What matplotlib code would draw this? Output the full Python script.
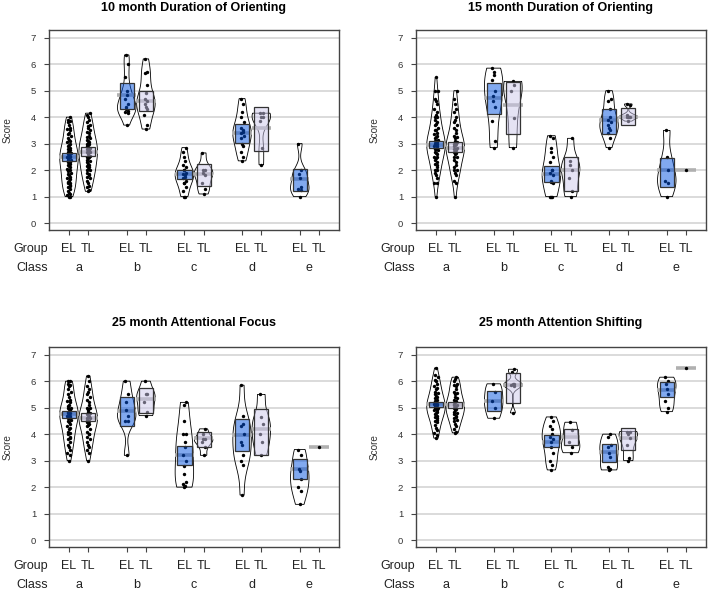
import numpy as np
import matplotlib
matplotlib.use("Agg")
import matplotlib.pyplot as plt
from matplotlib.patches import Rectangle, Polygon
from matplotlib.transforms import blended_transform_factory

plt.rcParams['font.family'] = ['Liberation Sans', 'DejaVu Sans']

titles = ["10 month Duration of Orienting", "15 month Duration of Orienting",
          "25 month Attentional Focus", "25 month Attention Shifting"]
classes = ["a", "b", "c", "d", "e"]
groups = ["EL", "TL"]
y_ticks = [0, 1, 2, 3, 4, 5, 6, 7]

# ---------------- 10 month Duration of Orienting ----------------
d10_a_EL = [1.0, 1.0, 1.05, 1.1, 1.15, 1.2, 1.3, 1.35, 1.4, 1.45, 1.5, 1.5, 1.55, 1.6, 1.65, 1.7, 1.75, 1.8, 1.85,
            1.9, 1.95, 2.0, 2.0, 2.05, 2.1, 2.15, 2.2, 2.25, 2.3, 2.3, 2.35, 2.4, 2.4, 2.45, 2.5, 2.5, 2.5, 2.55,
            2.6, 2.6, 2.65, 2.7, 2.7, 2.75, 2.8, 2.85, 2.9, 2.95, 3.0, 3.05, 3.1, 3.15, 3.2, 3.3, 3.35, 3.4, 3.5,
            3.55, 3.6, 3.7, 3.8, 3.85, 3.9, 4.0]
d10_a_TL = [1.2, 1.25, 1.35, 1.4, 1.5, 1.6, 1.7, 1.75, 1.8, 1.85, 1.9, 2.0, 2.0, 2.05, 2.1, 2.15, 2.2, 2.25, 2.3,
            2.35, 2.4, 2.45, 2.5, 2.5, 2.55, 2.6, 2.65, 2.7, 2.7, 2.75, 2.8, 2.8, 2.85, 2.9, 2.95, 3.0, 3.0, 3.05,
            3.1, 3.15, 3.2, 3.25, 3.3, 3.4, 3.45, 3.5, 3.6, 3.65, 3.7, 3.8, 3.9, 4.0, 4.1, 4.15]
d10_b_EL = [3.7, 4.15, 4.2, 4.25, 4.3, 4.4, 4.5, 4.7, 4.85, 5.0, 5.5, 6.0, 6.35]
d10_b_TL = [3.55, 3.7, 4.1, 4.3, 4.4, 4.5, 4.6, 4.7, 4.9, 5.2, 5.65, 5.7, 6.2]
d10_c_EL = [1.0, 1.0, 1.2, 1.35, 1.5, 1.5, 1.6, 1.7, 1.75, 1.8, 1.85, 1.9, 2.0, 2.0, 2.1, 2.2, 2.35, 2.5, 2.7, 2.85]
d10_c_TL = [1.1, 1.3, 1.5, 1.8, 1.9, 2.0, 2.0, 2.65]
d10_d_EL = [2.35, 2.5, 2.7, 2.9, 3.0, 3.2, 3.3, 3.4, 3.45, 3.5, 3.6, 3.8, 4.0, 4.2, 4.5, 4.7]
d10_d_TL = [2.2, 2.85, 3.85, 4.0, 4.0, 4.15, 4.15]
d10_e_EL = [1.0, 1.25, 1.3, 1.35, 1.7, 1.85, 2.0, 3.0]
d10_e_TL = []
d10_mean = [2.5, 2.7, 4.84, 4.6, 1.85, 1.85, 3.42, 3.6, 1.66, None]
d10_lo = [2.36, 2.55, 4.3, 4.25, 1.66, 1.41, 3.02, 2.74, 1.23, None]
d10_hi = [2.65, 2.86, 5.3, 5.0, 2.01, 2.23, 3.74, 4.4, 2.04, None]

# ---------------- 15 month Duration of Orienting ----------------
d15_a_EL = [1.0, 1.5, 1.5, 1.7, 1.8, 1.9, 2.0, 2.0, 2.1, 2.2, 2.25, 2.3, 2.4, 2.45, 2.5, 2.5, 2.6, 2.65, 2.7, 2.75,
            2.8, 2.8, 2.85, 2.9, 2.9, 2.95, 3.0, 3.0, 3.0, 3.05, 3.1, 3.1, 3.15, 3.2, 3.25, 3.3, 3.35, 3.4, 3.5,
            3.5, 3.6, 3.7, 3.75, 3.8, 3.9, 4.0, 4.0, 4.1, 4.2, 4.3, 4.5, 4.6, 4.7, 5.0, 5.0, 5.5]
d15_a_TL = [1.0, 1.5, 1.6, 1.8, 1.9, 2.0, 2.0, 2.1, 2.2, 2.3, 2.4, 2.5, 2.5, 2.6, 2.65, 2.7, 2.75, 2.8, 2.8, 2.85,
            2.9, 2.95, 3.0, 3.0, 3.05, 3.1, 3.2, 3.25, 3.3, 3.4, 3.5, 3.6, 3.7, 3.8, 3.9, 4.0, 4.2, 4.3, 4.5, 4.7, 5.0]
d15_b_EL = [2.85, 3.1, 3.85, 4.4, 4.6, 4.8, 5.0, 5.4, 5.6, 5.7, 5.85]
d15_b_TL = [2.85, 3.95, 5.0, 5.2, 5.35]
d15_c_EL = [1.0, 1.0, 1.0, 1.5, 1.55, 1.6, 1.8, 1.9, 2.0, 2.0, 2.3, 2.5, 2.7, 2.85, 3.2, 3.3]
d15_c_TL = [1.0, 1.2, 1.7, 2.0, 2.2, 2.35, 3.2]
d15_d_EL = [2.85, 3.2, 3.4, 3.5, 3.6, 3.7, 3.8, 3.9, 4.0, 4.3, 4.6, 4.7, 5.0]
d15_d_TL = [3.85, 4.0, 4.0, 4.0, 4.0, 4.1, 4.45, 4.5]
d15_e_EL = [1.0, 1.5, 1.6, 2.0, 2.5, 3.5]
d15_e_TL = [2.0]
d15_mean = [2.95, 2.85, 4.74, 4.45, 1.86, 1.99, 3.9, 4.0, 2.01, 2.0]
d15_lo = [2.82, 2.67, 4.12, 3.36, 1.55, 1.2, 3.37, 3.72, 1.38, None]
d15_hi = [3.1, 3.06, 5.28, 5.34, 2.16, 2.48, 4.31, 4.36, 2.45, None]

# ---------------- 25 month Attentional Focus ----------------
d25f_a_EL = [3.0, 3.2, 3.3, 3.4, 3.5, 3.6, 3.7, 3.8, 3.85, 3.9, 4.0, 4.05, 4.1, 4.2, 4.25, 4.3, 4.4, 4.45, 4.5,
             4.55, 4.6, 4.6, 4.65, 4.7, 4.7, 4.75, 4.8, 4.8, 4.85, 4.9, 4.95, 5.0, 5.0, 5.05, 5.1, 5.2, 5.25, 5.3,
             5.4, 5.5, 5.6, 5.7, 5.8, 5.85, 5.9, 6.0, 6.0]
d25f_a_TL = [3.0, 3.3, 3.4, 3.5, 3.6, 3.7, 3.8, 3.9, 4.0, 4.0, 4.1, 4.2, 4.3, 4.35, 4.4, 4.45, 4.5, 4.5, 4.55,
             4.6, 4.6, 4.65, 4.7, 4.75, 4.8, 4.85, 4.9, 5.0, 5.0, 5.1, 5.2, 5.3, 5.4, 5.5, 5.6, 5.7, 5.8, 6.0, 6.2]
d25f_b_EL = [3.2, 4.5, 4.5, 4.7, 4.9, 5.2, 5.5, 6.0]
d25f_b_TL = [4.7, 4.85, 5.2, 5.5, 5.5, 6.0]
d25f_c_EL = [2.0, 2.05, 2.1, 2.2, 2.5, 2.8, 3.0, 3.2, 3.5, 3.7, 4.0, 4.0, 4.5, 5.1, 5.2]
d25f_c_TL = [3.2, 3.5, 3.7, 3.8, 3.8, 4.0, 4.2]
d25f_d_EL = [1.7, 2.85, 3.0, 3.2, 3.6, 3.7, 4.0, 4.3, 4.4, 4.7, 5.85]
d25f_d_TL = [3.2, 3.7, 4.0, 4.4, 4.65, 5.5]
d25f_e_EL = [1.35, 1.85, 2.0, 2.3, 2.6, 2.7, 3.2, 3.42]
d25f_e_TL = [3.5]
d25f_mean = [4.75, 4.62, 4.86, 5.34, 3.22, 3.86, 3.98, 4.21, 2.7, 3.5]
d25f_lo = [4.62, 4.49, 4.31, 4.81, 2.84, 3.5, 3.35, 3.23, 2.3, None]
d25f_hi = [4.88, 4.78, 5.39, 5.74, 3.54, 4.07, 4.56, 4.96, 3.05, None]

# ---------------- 25 month Attention Shifting ----------------
d25s_a_EL = [3.85, 3.95, 4.05, 4.15, 4.25, 4.35, 4.45, 4.5, 4.55, 4.6, 4.65, 4.7, 4.75, 4.8, 4.85, 4.9, 4.9, 4.95,
             5.0, 5.0, 5.05, 5.1, 5.1, 5.15, 5.15, 5.2, 5.25, 5.3, 5.35, 5.4, 5.45, 5.5, 5.55, 5.6, 5.7, 5.75, 5.8,
             5.9, 6.0, 6.05, 6.15, 6.25, 6.5]
d25s_a_TL = [4.05, 4.1, 4.2, 4.3, 4.4, 4.5, 4.55, 4.6, 4.65, 4.7, 4.75, 4.8, 4.85, 4.9, 4.95, 5.0, 5.0, 5.05, 5.1,
             5.1, 5.15, 5.2, 5.25, 5.3, 5.35, 5.4, 5.5, 5.55, 5.6, 5.7, 5.8, 5.85, 5.9, 6.0, 6.1, 6.15]
d25s_b_EL = [4.6, 5.0, 5.25, 5.6, 5.9]
d25s_b_TL = [4.8, 5.8, 5.85, 5.9, 5.9, 6.35, 6.45]
d25s_c_EL = [2.65, 2.85, 3.0, 3.3, 3.5, 3.7, 3.8, 3.9, 4.0, 4.2, 4.3, 4.5, 4.65]
d25s_c_TL = [3.3, 3.5, 3.7, 4.15, 4.45]
d25s_d_EL = [2.65, 2.7, 2.75, 3.15, 3.3, 3.5, 3.6, 3.9, 4.0]
d25s_d_TL = [3.0, 3.1, 3.6, 3.85, 4.0, 4.1, 4.1]
d25s_e_EL = [4.85, 5.0, 5.25, 5.5, 5.7, 5.9, 6.0, 6.15]
d25s_e_TL = [6.5]
d25s_mean = [5.12, 5.11, 5.26, 5.87, 3.72, 3.88, 3.33, 3.86, 5.68, 6.5]
d25s_lo = [5.03, 4.99, 4.86, 5.18, 3.51, 3.59, 2.94, 3.39, 5.42, None]
d25s_hi = [5.22, 5.2, 5.64, 6.31, 3.95, 4.2, 3.63, 4.24, 5.95, None]

panels = [
    ([d10_a_EL, d10_a_TL, d10_b_EL, d10_b_TL, d10_c_EL, d10_c_TL, d10_d_EL, d10_d_TL, d10_e_EL, d10_e_TL],
     d10_mean, d10_lo, d10_hi),
    ([d15_a_EL, d15_a_TL, d15_b_EL, d15_b_TL, d15_c_EL, d15_c_TL, d15_d_EL, d15_d_TL, d15_e_EL, d15_e_TL],
     d15_mean, d15_lo, d15_hi),
    ([d25f_a_EL, d25f_a_TL, d25f_b_EL, d25f_b_TL, d25f_c_EL, d25f_c_TL, d25f_d_EL, d25f_d_TL, d25f_e_EL, d25f_e_TL],
     d25f_mean, d25f_lo, d25f_hi),
    ([d25s_a_EL, d25s_a_TL, d25s_b_EL, d25s_b_TL, d25s_c_EL, d25s_c_TL, d25s_d_EL, d25s_d_TL, d25s_e_EL, d25s_e_TL],
     d25s_mean, d25s_lo, d25s_hi),
]

# ---------------- helpers ----------------
def bw_nrd0(x):
    x = np.asarray(x, float)
    sd = np.std(x, ddof=1)
    iqr = np.percentile(x, 75) - np.percentile(x, 25)
    lo = min(sd, iqr / 1.34)
    if lo <= 0:
        lo = sd if sd > 0 else 1.0
    return 0.9 * lo * len(x) ** -0.2

def bean_outline(vals, center, half_max=0.48):
    v = np.asarray(vals, float)
    bw = bw_nrd0(v)
    grid = np.linspace(v.min(), v.max(), 400)
    dens = np.exp(-0.5 * ((grid[:, None] - v[None, :]) / bw) ** 2).sum(axis=1)
    w = dens / dens.max() * half_max
    xs = np.concatenate([center - w, (center + w)[::-1]])
    ys = np.concatenate([grid, grid[::-1]])
    return np.column_stack([xs, ys])

W, H = 708, 591
fig = plt.figure(figsize=(W / 100, H / 100), dpi=100)
ax_px = [(49, 30), (416, 30), (49, 347), (416, 347)]
ax_w, ax_h = 290, 200

positions = [1, 2, 4, 5, 7, 8, 10, 11, 13, 14]
EL_fill = (5 / 255, 85 / 255, 225 / 255, 0.5)
TL_fill = (205 / 255, 200 / 255, 235 / 255, 0.5)
txt_col = '#222222'

for k, (beans, means, los, his) in enumerate(panels):
    lx, ty = ax_px[k]
    ax = fig.add_axes([lx / W, (H - ty - ax_h) / H, ax_w / W, ax_h / H])
    ax.set_xlim(-0.04, 15.04)
    ax.set_ylim(-0.26, 7.29)
    for yv in y_ticks:
        ax.axhline(yv, color='#D4D4D4', lw=1.2, zorder=0)
    for i, vals in enumerate(beans):
        x = positions[i]
        fill = EL_fill if i % 2 == 0 else TL_fill
        if len(vals) > 1:
            poly = Polygon(bean_outline(vals, x), closed=True, facecolor='none',
                           edgecolor='black', lw=0.6, zorder=2)
            ax.add_patch(poly)
        if means[i] is not None:
            ax.plot([x - 0.5, x + 0.5], [means[i], means[i]], color='#B0B0B0', lw=2.6,
                    solid_capstyle='butt', zorder=3)
        if len(vals) > 0:
            n = len(vals)
            jit = 0.08 * np.sin(np.arange(n) * 2.39996)
            ax.scatter(x + jit, vals, s=6, color='black', linewidths=0, zorder=4)
        if los[i] is not None:
            ax.add_patch(Rectangle((x - 0.37, los[i]), 0.74, his[i] - los[i],
                                   facecolor=fill, edgecolor='none', zorder=5))
            ax.add_patch(Rectangle((x - 0.37, los[i]), 0.74, his[i] - los[i],
                                   facecolor='none', edgecolor='#333333', lw=0.9, zorder=6))
    for sp in ax.spines.values():
        sp.set_color('#444444')
        sp.set_linewidth(1.0)
    ax.set_yticks(y_ticks)
    ax.set_yticklabels([str(t) for t in y_ticks], fontsize=6.8, color='#333333')
    ax.set_xticks(positions)
    ax.set_xticklabels([])
    ax.tick_params(axis='both', direction='out', length=3.8, width=0.8, color='#444444')
    ax.tick_params(axis='y', pad=5.5)
    ax.set_ylabel("Score", fontsize=7.2, color='#333333', labelpad=13)

    tr = blended_transform_factory(ax.transData, ax.transAxes)
    for i, x in enumerate(positions):
        ax.text(x, -19 / ax_h, groups[i % 2], transform=tr, ha='center', va='center',
                fontsize=9, color=txt_col)
    for j, c in enumerate(classes):
        ax.text((positions[2 * j] + positions[2 * j + 1]) / 2, -38 / ax_h, c, transform=tr,
                ha='center', va='center', fontsize=9, color=txt_col)
    ax.text(-0.002, -19 / ax_h, "Group", transform=ax.transAxes, ha='right', va='center',
            fontsize=9, color=txt_col)
    ax.text(-0.002, -38 / ax_h, "Class", transform=ax.transAxes, ha='right', va='center',
            fontsize=9, color=txt_col)
    title_y = ty - 22 if k < 2 else ty - 24
    fig.text((lx + ax_w / 2) / W, 1 - title_y / H, titles[k], ha='center', va='center',
             fontsize=9, fontweight='bold', color='black')

fig.savefig("out.png", dpi=100)
